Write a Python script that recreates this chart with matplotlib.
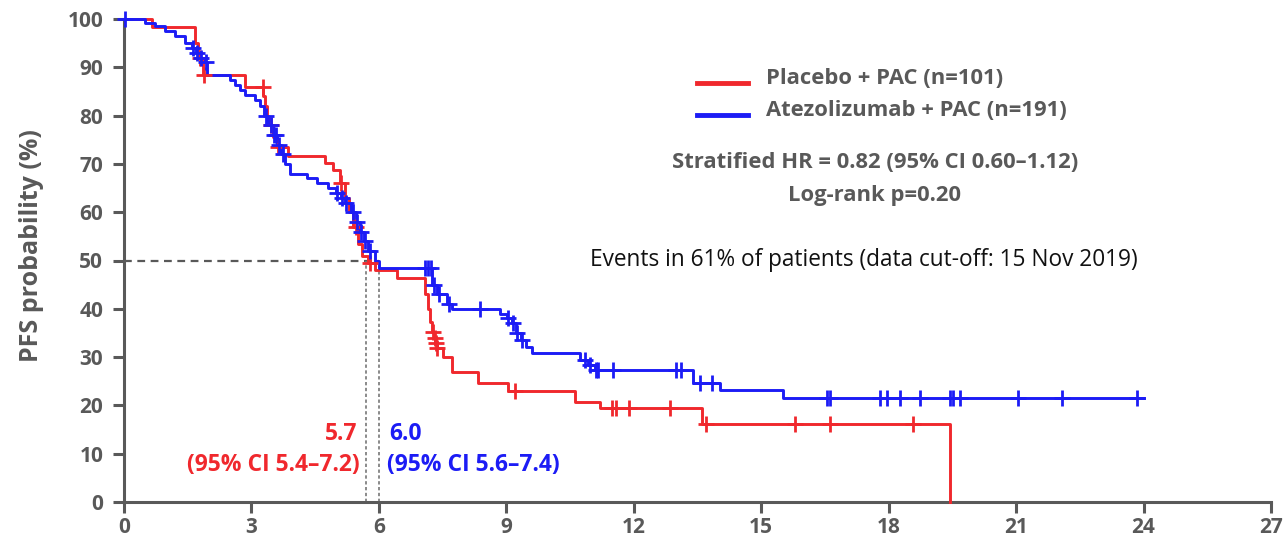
import numpy as np
import matplotlib
matplotlib.use("Agg")
import matplotlib.pyplot as plt

# Kaplan-Meier steps (months, PFS %)
red_t = [0, 0.66, 1.67, 1.75, 1.85, 2.85, 3.28, 3.32, 3.36, 3.40, 3.50, 3.60, 3.86, 4.73, 4.92,
         5.09, 5.20, 5.30, 5.40, 5.50, 5.60, 5.75, 5.90, 6.43, 7.09, 7.15, 7.20, 7.25, 7.30, 7.33,
         7.36, 7.50, 7.72, 8.34, 9.04, 10.62, 11.21, 13.61, 19.45]
red_s = [100, 98.4, 95, 92, 88.4, 86, 84, 82, 80, 78, 75.5, 73.5, 71.6, 70.2, 68.7,
         66, 63, 60, 57, 53.5, 51, 49.5, 48, 46.4, 43, 40, 37.3, 35.2, 34, 32.9,
         31.9, 30, 26.9, 24.6, 23, 20.7, 19.5, 16.1, 0]
red_cens = [1.78, 1.88, 3.27, 3.45, 3.62, 5.1, 5.45, 5.78, 7.27, 7.31, 7.34, 7.37, 9.2,
            11.49, 11.58, 11.89, 12.86, 13.7, 15.8, 16.62, 18.58]

blue_t = [0, 0.5, 0.73, 0.97, 1.2, 1.43, 1.6, 1.7, 1.8, 1.9, 1.95, 2.49, 2.61, 2.73, 2.85, 3.08,
          3.2, 3.3, 3.4, 3.5, 3.6, 3.7, 3.8, 3.9, 4.3, 4.55, 4.8, 5.0, 5.1, 5.2, 5.35,
          5.45, 5.55, 5.65, 5.75, 5.9, 6.0, 7.25, 7.37, 7.6, 7.72, 8.85, 9.02, 9.13, 9.23, 9.35,
          9.47, 9.6, 10.74, 10.93, 11.09, 13.4, 14.03, 15.52, 24.0]
blue_s = [100, 99.2, 98.5, 97.5, 96.5, 95, 94, 93, 92, 91, 88.4, 87.4, 86.3, 85.3, 84.3, 83.2,
          82, 80, 78, 76, 74, 72, 70, 68, 67, 66, 65, 64, 63, 62, 60,
          58, 56, 54, 52, 50, 48.4, 45, 43, 41, 40, 39, 38, 37, 35, 33.5,
          32, 30.8, 29.4, 28.3, 27.3, 24.6, 23.2, 21.5, 21.5]
blue_cens = [0.02, 1.62, 1.72, 1.82, 1.92, 3.35, 3.45, 3.52, 3.58, 3.65, 3.75, 5.02, 5.12, 5.22,
             5.38, 5.48, 5.58, 5.68, 5.8, 7.09, 7.16, 7.22, 7.3, 7.42, 7.65, 8.38, 9.05, 9.15,
             9.25, 9.37, 10.85, 10.97, 11.1, 11.15, 11.51, 13.0, 13.1, 13.56, 13.85, 16.55,
             16.62, 17.8, 17.97, 18.27, 18.74, 19.45, 19.52, 19.68, 21.05, 22.09, 23.85]

red_median, blue_median = 5.7, 6.0
x_ticks = list(range(0, 28, 3))
y_ticks = list(range(0, 101, 10))

RED = "#f0282d"
BLUE = "#1c1cf5"
GREY = "#595959"

plt.rcParams['font.family'] = ['Open Sans', 'DejaVu Sans']

fig = plt.figure(figsize=(12.87, 5.37), dpi=100)
ax = fig.add_axes([124 / 1287, 1 - 502 / 537, (1271 - 124) / 1287, (502 - 19) / 537])


def level_at(times, levels, t):
    i = np.searchsorted(times, t, side='right') - 1
    return levels[i]


# median guides
ax.plot([0, blue_median], [50, 50], ls=(0, (3.5, 2.5)), color=GREY, lw=1.6, zorder=1)
for m in (red_median, blue_median):
    ax.plot([m, m], [0, 50], ls=(0, (2, 1.5)), color="#777777", lw=1.2, zorder=1)

for t, s, c, cens in [(red_t, red_s, RED, red_cens), (blue_t, blue_s, BLUE, blue_cens)]:
    ax.step(t, s, where='post', color=c, lw=2.1, clip_on=False, zorder=3)
    ys = [level_at(t, s, ct) for ct in cens]
    ax.plot(cens, ys, ls='none', marker='+', ms=11, mew=2.0, color=c, clip_on=False, zorder=4)

# legend drawn by hand to match layout
for yy, c, lab in [(83, RED, "Placebo + PAC (n=101)"), (115, BLUE, "Atezolizumab + PAC (n=191)")]:
    fy = 1 - yy / 537
    fig.add_artist(plt.Line2D([697 / 1287, 748 / 1287], [fy, fy], color=c, lw=3.5))
    fig.text(766 / 1287, fy + 0.008, lab, color=GREY, fontsize=15.8, fontweight='bold', va='center')

fig.text(875 / 1287, 1 - 163 / 537, "Stratified HR = 0.82 (95% CI 0.60\u20131.12)", color=GREY,
         fontsize=15.8, fontweight='bold', ha='center', va='center')
fig.text(875 / 1287, 1 - 195 / 537, "Log-rank p=0.20", color=GREY,
         fontsize=15.8, fontweight='bold', ha='center', va='center')
fig.text(864 / 1287, 1 - 260 / 537, "Events in 61% of patients (data cut-off: 15 Nov 2019)",
         color="#111111", fontsize=16.3, ha='center', va='center')

# median labels
ax.text(5.5, 14.0, "5.7", color=RED, fontsize=16.5, fontweight='bold', ha='right', va='center')
ax.text(5.55, 7.6, "(95% CI 5.4\u20137.2)", color=RED, fontsize=16.5, fontweight='bold', ha='right', va='center')
ax.text(6.25, 14.0, "6.0", color=BLUE, fontsize=16.5, fontweight='bold', ha='left', va='center')
ax.text(6.2, 7.6, "(95% CI 5.6\u20137.4)", color=BLUE, fontsize=16.5, fontweight='bold', ha='left', va='center')

ax.set_xlim(0, 27)
ax.set_ylim(0, 100)
ax.set_xticks(x_ticks)
ax.set_yticks(y_ticks)
ax.set_ylabel("PFS probability (%)", color=GREY, fontsize=18, fontweight='bold')
ax.yaxis.set_label_coords(-80 / 1147, 0.53)
for side in ("top", "right"):
    ax.spines[side].set_visible(False)
for side in ("left", "bottom"):
    ax.spines[side].set_color(GREY)
    ax.spines[side].set_linewidth(2.2)
ax.tick_params(axis='both', colors=GREY, width=2.2, length=8, labelsize=15)
ax.tick_params(axis='y', pad=7)
ax.tick_params(axis='x', pad=3)
for lbl in ax.get_xticklabels() + ax.get_yticklabels():
    lbl.set_fontweight('bold')

fig.savefig("out.png", dpi=100)
